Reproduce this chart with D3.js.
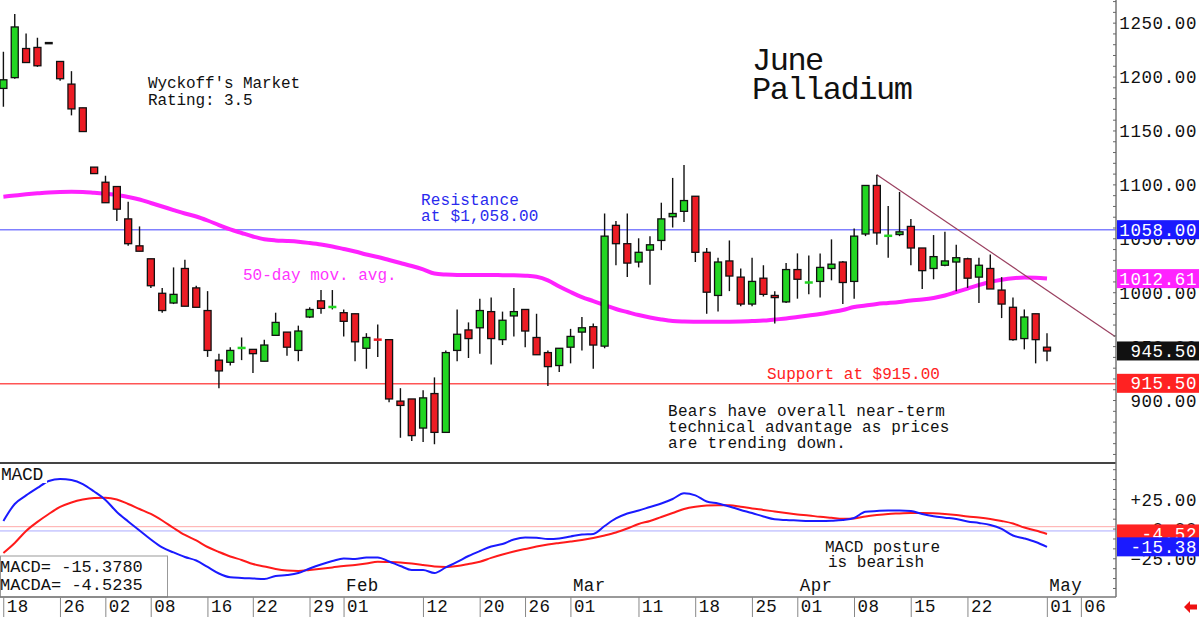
<!DOCTYPE html>
<html><head><meta charset="utf-8">
<script src="https://cdn.jsdelivr.net/npm/d3@7"></script>
<style>
body{margin:0;background:#fff;}
svg{display:block;}
text{font-family:"Liberation Mono","DejaVu Sans Mono",monospace;}
</style></head><body>
<svg id="c" width="1200" height="617"></svg>
<script>
// ---------- DATA ----------
const firstDay = "2023-12-15", lastDay = "2024-05-08";
const holidays = ["2023-12-25","2024-01-01","2024-01-15","2024-02-19","2024-03-29"];

const open  = [1189,1199,1226,1227,1231,1214,1193,1171,1116,1102,1098,1068,1043,1031,999,990,1022,1004,983,937,935,948,947,936,960,963,946,977,992,986,981,980,948,956.3,956,899,901,874,906,870,946,965,967,982,956,978,984,958,944,932,949,963,968,950,1062,1045,1028,1039,1048,1070,1075,1089,1037,997,1029,1014,989,1013,997,991,1021,1008.8,1010,1022,1028,1010,1054,1099,1052,1053.5,1061,1041,1022,1025,1028,1031,1014,1022,1002,986,957,980,949];
const high  = [1223,1258,1240,1236,1231,1214,1205,1171,1116,1108,1098,1084,1061,1031,1004,1023,1030,1006,1001,943,949,958,947,956,981,963,969,986,1002,1002,984,980,962,970,956,911,901,909,921,946,984,972,994,995,982,1004,984,980,946,948,966,977,971,1073,1066,1073,1050,1052,1083,1106,1118,1089,1041,1032,1048,1022,1032,1025,1001,1027,1036,1034,1036,1049,1029,1059,1099,1109,1080,1093,1068,1041,1053,1056,1044,1032,1032,1035,1014,995,984,980,962];
const low   = [1172,1198,1213,1209,1231,1196,1164,1149,1110,1083,1066,1043,1038,1004,981,989,987,986,940,911,932,937,925,936,960,941,936,976,980,984,959,936,929,940,898,865,862,861,859,870,936,939,943,933,951,959,949,942,913,926,934,946,929,948,1025,1014,1023,1007,1039,1060,1065,1028,980,982,1001,987,987,996,971,990,994,998,995,1011,989,994,1052,1044,1032,1052,1025,1003,1012,1024,1001,1004,990,1003,976,955,947,934,936];
const close = [1197,1246,1213,1210,1231,1198,1170,1149,1110,1083,1077,1045,1038,1006,983,998,987,986,946,927,946,948.3,943,951,972,949,964,984,985,986.3,973,954,958,956,901,895,867,902,870,944,961,957,983,957,974,982,964,942,931,948,959,967,951,1052,1045,1027,1037,1044,1068,1073,1085,1037,1000,1028,1015,989,1010,998,995,1021,1012,1009,1023,1026,1009,1052,1099,1055,1052.3,1056,1041,1020,1033,1029,1032,1013,1025,1003,989,956,977,956,945.5];
const ma50  = [1088.6,1089.7,1090.8,1091.7,1092.5,1093.0,1093.2,1093.0,1092.2,1091.3,1090.2,1088.3,1086.0,1082.7,1079.5,1076.2,1073.0,1070.2,1066.5,1062.3,1058.2,1054.9,1051.7,1049.1,1048.0,1047.5,1046.8,1045.6,1044.2,1042.4,1040.1,1037.8,1035.0,1032.7,1029.9,1027.1,1024.3,1021.1,1017.3,1016.4,1016.0,1016.0,1016.0,1016.0,1015.8,1015.7,1015.3,1014.3,1011.0,1005.3,1000.2,995.5,991.8,988.1,984.4,981.6,978.8,976.5,974.7,973.3,972.8,972.6,972.5,972.5,972.6,972.8,973.2,973.7,974.7,975.6,977.0,978.4,979.8,981.6,983.5,986.3,987.7,989.1,990.0,991.0,992.3,993.2,994.6,996.9,1000.2,1003.4,1006.7,1009.5,1011.5,1013.0,1013.6,1013.3,1012.61];
const macdLine   = [6.4,20.7,27.9,34.2,40.1,41.8,40.9,37.5,31.2,24.1,14.0,6.0,-1.6,-9.2,-15.9,-20.1,-23.9,-26.9,-32.3,-37.8,-41.0,-41.6,-42.0,-42.4,-39.9,-39.1,-37.4,-33.6,-30.2,-27.3,-25.2,-25.6,-24.3,-24.3,-27.7,-31.5,-34.8,-34.8,-37.4,-32.7,-28.1,-23.1,-18.9,-15.1,-13.0,-9.2,-7.5,-7.7,-8.8,-8.3,-6.6,-5.0,-4.5,2.2,8.5,12.7,15.2,18.2,21.1,24.9,29.7,27.9,22.8,21.1,18.6,15.7,13.1,10.2,7.8,7.2,6.8,6.4,6.4,6.6,7.2,8.9,14.2,14.8,15.2,15.2,14.8,12.3,10.4,9.2,8.1,6.0,4.7,3.0,-0.3,-5.8,-8.3,-11.3,-15.38];
const macdSignal = [-20.5,-12.1,-2.0,5.6,12.3,18.2,22.0,24.5,25.8,26.0,24.5,20.7,16.5,12.3,6.8,0.5,-5.4,-10.0,-15.5,-19.7,-23.5,-26.4,-29.8,-31.9,-34.0,-35.3,-35.7,-34.8,-33.8,-32.7,-31.5,-30.6,-29.4,-27.9,-28.1,-28.5,-29.4,-30.6,-31.9,-32.3,-31.5,-29.8,-27.9,-24.7,-21.8,-19.3,-17.2,-15.1,-13.4,-12.1,-10.9,-9.6,-7.9,-5.8,-3.3,0.1,3.9,6.4,9.8,13.1,16.5,18.4,19.4,19.6,19.6,18.4,16.9,15.7,14.4,13.1,11.9,11.0,9.9,9.1,8.3,8.5,10.2,11.4,12.3,12.7,13.1,13.1,12.9,12.3,11.4,10.2,9.3,8.1,6.4,4.3,0.9,-1.6,-4.52];

const tickDates = ["2023-12-18","2023-12-26","2024-01-02","2024-01-08","2024-01-16","2024-01-22","2024-01-29","2024-02-01","2024-02-12","2024-02-20","2024-02-26","2024-03-01","2024-03-11","2024-03-18","2024-03-25","2024-04-01","2024-04-08","2024-04-15","2024-04-22","2024-05-01","2024-05-06"];
const monthDates  = ["2024-02-01","2024-03-01","2024-04-01","2024-05-01"];
const monthNames  = ["Feb","Mar","Apr","May"];
const priceTicks = [900,950,1000,1050,1100,1150,1200,1250];
const macdTicks = [25,0,-25];
const resistance = 1058, support = 915;
const trendStart = {date:"2024-04-09", value:1109};
const trendEnd   = {date:"2024-05-08", value:959};
const macdRef = {signal:1.6, macd:-2.0};
const lastMacd = -15.3780, lastSignal = -4.5235;
const boxLabels = [
  {value:1058.00, text:"1058.00", color:"#1a1aff"},
  {value:1012.61, text:"1012.61", color:"#ff22ff"},
  {value:945.50,  text:"945.50",  color:"#111111"},
  {value:915.50,  text:"915.50",  color:"#ff2222"}
];
const macdBoxes = [
  {value:-4.52, text:"-4.52", color:"#ff2222"},
  {value:-15.38, text:"-15.38", color:"#1a1aff"}
];

// ---------- SCALES ----------
const fmtDay = d3.utcFormat("%Y-%m-%d");
const parse = d3.utcParse("%Y-%m-%d");
const days = d3.utcDay.range(parse(firstDay), d3.utcDay.offset(parse(lastDay),1))
  .filter(d => d.getUTCDay()%6 !== 0 && !holidays.includes(fmtDay(d)))
  .map(fmtDay);
const idx = s => days.indexOf(s);

const AX = 1116;
const x = d3.scaleLinear().domain([0, 92]).range([3.4, 1047]);
const yP = d3.scaleLinear().domain([841.6, 1271]).range([463, 0]);
const yM = d3.scaleLinear().domain([-57.6, 55.2]).range([597, 463]);

const svg = d3.select("#c");
const GREEN = "#22d622", RED = "#ec1c24";
const font = "\"Liberation Mono\",\"DejaVu Sans Mono\",monospace";

// ---------- PRICE PANEL ----------
svg.append("line").attr("x1",0).attr("x2",AX).attr("y1",yP(resistance)).attr("y2",yP(resistance))
  .attr("stroke","#8080ff").attr("stroke-width",1.5);
svg.append("line").attr("x1",0).attr("x2",AX).attr("y1",yP(support)).attr("y2",yP(support))
  .attr("stroke","#ff5555").attr("stroke-width",1.5);

svg.append("path").datum(ma50)
  .attr("d", d3.line().x((d,i)=>x(i)).y(d=>yP(d)).curve(d3.curveMonotoneX))
  .attr("fill","none").attr("stroke","#ff22ff").attr("stroke-width",4);

svg.append("line")
  .attr("x1",x(idx(trendStart.date))).attr("y1",yP(trendStart.value))
  .attr("x2",x(idx(trendEnd.date))).attr("y2",yP(trendEnd.value))
  .attr("stroke","#9a4060").attr("stroke-width",1.2);

const cg = svg.append("g");
open.forEach((o,i)=>{
  const c = close[i], cx = x(i);
  cg.append("line").attr("x1",cx).attr("x2",cx).attr("y1",yP(high[i])).attr("y2",yP(low[i]))
    .attr("stroke","#111").attr("stroke-width",1.4);
  const y1 = yP(Math.max(o,c)), y2 = yP(Math.min(o,c));
  if (y2 - y1 < 2) {
    const col = c > o ? GREEN : (c < o ? RED : "#111");
    cg.append("line").attr("x1",cx-4).attr("x2",cx+4).attr("y1",yP(c)).attr("y2",yP(c))
      .attr("stroke",col).attr("stroke-width",2.5);
  } else {
    cg.append("rect").attr("x",cx-3.5).attr("y",y1).attr("width",7).attr("height",y2-y1)
      .attr("fill", c>o?GREEN:RED).attr("stroke","#111").attr("stroke-width",1.3);
  }
});

function txt(s, tx, ty, size, fill, ls){
  return svg.append("text").attr("x",tx).attr("y",ty).attr("font-size",size)
    .attr("fill",fill).attr("letter-spacing",ls||0).text(s);
}
txt("Wyckoff's Market",148,88,16,"#111",-0.1);
txt("Rating: 3.5",148,105,16,"#111",-0.1);
txt("June",752,70,32,"#111",-1.5);
txt("Palladium",752,99,32,"#111",-1.5);
txt("Resistance",421,205,16,"#2a2aee",0.2);
txt("at $1,058.00",421,221,16,"#2a2aee",0.2);
txt("50-day mov. avg.",243,280,16,"#ff33ff",0);
txt("Support at $915.00",767,379,16,"#ff2222",0);
txt("Bears have overall near-term",668,416,16,"#111",0.3);
txt("technical advantage as prices",668,432,16,"#111",0.1);
txt("are trending down.",668,448,16,"#111",0.3);

// ---------- MACD PANEL ----------
svg.append("line").attr("x1",0).attr("x2",AX).attr("y1",yM(macdRef.signal)).attr("y2",yM(macdRef.signal))
  .attr("stroke","#ffaaaa").attr("stroke-width",1);
svg.append("line").attr("x1",0).attr("x2",AX).attr("y1",yM(macdRef.macd)).attr("y2",yM(macdRef.macd))
  .attr("stroke","#aaaaff").attr("stroke-width",1);

svg.append("path").datum(macdSignal)
  .attr("d", d3.line().x((d,i)=>x(i)).y(d=>yM(d)).curve(d3.curveMonotoneX))
  .attr("fill","none").attr("stroke","#ff1a1a").attr("stroke-width",2);
svg.append("path").datum(macdLine)
  .attr("d", d3.line().x((d,i)=>x(i)).y(d=>yM(d)).curve(d3.curveMonotoneX))
  .attr("fill","none").attr("stroke","#1a1aff").attr("stroke-width",2);

svg.append("line").attr("x1",0).attr("x2",AX).attr("y1",463).attr("y2",463)
  .attr("stroke","#444").attr("stroke-width",2);

svg.append("rect").attr("x",0).attr("y",464).attr("width",47).attr("height",19).attr("fill","#fff");
txt("MACD",1,480,18,"#111",-0.3);

svg.append("rect").attr("x",0.5).attr("y",556).attr("width",167).attr("height",41)
  .attr("fill","#fff").attr("stroke","#999").attr("stroke-width",1);
txt("MACD=  " + lastMacd.toFixed(4),0,572,17,"#111",0);
txt("MACDA=  " + lastSignal.toFixed(4),0,590,17,"#111",0);

txt("MACD posture",825,552,16,"#111",0);
txt("is bearish",828,567,16,"#111",0);

monthDates.forEach((d,k)=>{
  txt(monthNames[k], x(idx(d))-9, 591, 17.5, "#111", 0.4);
});

// ---------- X AXIS ROW ----------
svg.append("line").attr("x1",0).attr("x2",AX).attr("y1",597).attr("y2",597)
  .attr("stroke","#777").attr("stroke-width",1.5);
const xa = svg.append("g");
tickDates.forEach(d=>{
  const tx = x(idx(d)) - 11;
  xa.append("line").attr("x1",tx).attr("x2",tx).attr("y1",597).attr("y2",617)
    .attr("stroke","#888").attr("stroke-width",1);
  xa.append("text").attr("x",tx+3).attr("y",612).attr("font-size",17.5).attr("fill","#111")
    .attr("letter-spacing",0.4).text(d.slice(8));
});

// ---------- RIGHT AXES ----------
svg.append("line").attr("x1",AX).attr("x2",AX).attr("y1",0).attr("y2",597)
  .attr("stroke","#777").attr("stroke-width",1.5);

const pMinor = d3.range(850, 1271, 10);
svg.append("g").attr("transform",`translate(${AX},0)`)
  .call(d3.axisLeft(yP).tickValues(pMinor).tickSize(3).tickFormat(""))
  .call(g=>{g.select(".domain").remove(); g.selectAll("line").attr("stroke","#666");});
const mMinor = d3.range(-50, 55, 25/3);
svg.append("g").attr("transform",`translate(${AX},0)`)
  .call(d3.axisLeft(yM).tickValues(mMinor).tickSize(3).tickFormat(""))
  .call(g=>{g.select(".domain").remove(); g.selectAll("line").attr("stroke","#666");});

svg.append("g").attr("transform",`translate(${AX},0)`)
  .call(d3.axisRight(yP).tickValues(priceTicks).tickSize(0).tickFormat(d3.format(".2f")))
  .call(g=>{
    g.select(".domain").remove();
    g.selectAll("text").attr("x",81).attr("text-anchor","end").attr("font-size",17.5)
      .attr("font-family",font).attr("letter-spacing",0.6).attr("fill","#111").attr("dy","0.35em");
  });
svg.append("g").attr("transform",`translate(${AX},0)`)
  .call(d3.axisRight(yM).tickValues(macdTicks).tickSize(0)
    .tickFormat(d=> (d>0?"+":"") + d3.format(".2f")(d)))
  .call(g=>{
    g.select(".domain").remove();
    g.selectAll("text").attr("x",81).attr("text-anchor","end").attr("font-size",17.5)
      .attr("font-family",font).attr("letter-spacing",0.6).attr("fill","#111").attr("dy","0.35em");
  });

function box(yy, label, color){
  svg.append("rect").attr("x",AX+1).attr("y",yy-9.5).attr("width",82).attr("height",19).attr("fill",color);
  svg.append("text").attr("x",1197).attr("y",yy+6).attr("text-anchor","end").attr("font-size",17.5)
    .attr("letter-spacing",0.6).attr("fill","#fff").text(label);
}
boxLabels.forEach(b=>box(yP(b.value), b.text, b.color));
macdBoxes.forEach(b=>box(yM(b.value), b.text, b.color));

svg.append("path").attr("d","M1184,607 L1190,601 L1190,604.5 L1197,604.5 L1197,609.5 L1190,609.5 L1190,613 Z")
  .attr("fill","#ee1111");
</script>
</body></html>
